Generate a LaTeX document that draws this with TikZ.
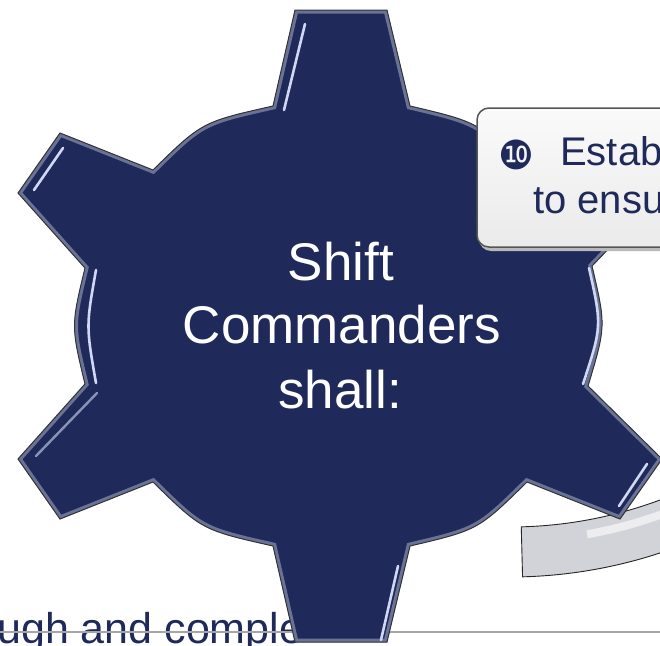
\documentclass[tikz,border=0pt]{standalone}
\usepackage{fontspec}
\setmainfont{Liberation Sans}
\newfontfamily\dejavufont{DejaVu Sans}
\definecolor{navy}{HTML}{1F2A5B}
\definecolor{bevel}{HTML}{6A7396}
\definecolor{hilite}{HTML}{D0D8F4}
\definecolor{bandgray}{HTML}{D2D3D8}
\definecolor{boxedge}{HTML}{555555}
\begin{document}
\begin{tikzpicture}[x=1pt,y=-1pt,
  gearoutline/.style={insert path={(273,106) -- (295,10) -- (387,10) -- (410,106)
     .. controls (478,122) .. (527,170) -- (620,133) -- (662,193) -- (592,266)
     .. controls (606,326) .. (588,386) -- (662,459) -- (620,519) -- (527,482)
     .. controls (478,530) .. (410,546) -- (387,642) -- (295,642) -- (273,546)
     .. controls (202,530) .. (153,482) -- (60,519) -- (18,459) -- (85,384)
     .. controls (71,326) .. (85,268) -- (18,193) -- (60,133) -- (153,170)
     .. controls (202,122) .. (273,106) -- cycle}},
  geartext/.style={text=white, anchor=base, inner sep=0, font=\fontsize{53}{64}\selectfont},
  boxtext/.style={text=navy, anchor=base west, inner sep=0, font=\fontsize{40}{48}\selectfont},
  hl/.style={hilite, line width=2.6, line cap=round},
  hlsoft/.style={hilite!60!navy, line width=2.4, line cap=round}]
\useasboundingbox (0,0) rectangle (660,645);
\clip (0,0) rectangle (660,645);
\fill[white] (0,0) rectangle (660,645);

% bottom text and rule
\node[text=navy, anchor=base west, inner sep=0, font=\fontsize{43}{50}\selectfont] (bottomtext) at (-3,643) {ugh and comple};
\coordinate (ruleL) at (0,632);
\coordinate (ruleR) at (660,632);
\draw[gray!70, line width=2.5] (ruleL) -- (ruleR);

% gray ring band
\begin{scope}[shift={(510,97)}]
  \fill[bandgray, draw=black!85, line width=0.9]
    (88.5:430) arc[start angle=88.5, end angle=30, radius=430]
    -- (30:480) arc[start angle=30, end angle=88.5, radius=480] -- cycle;
  \draw[white, opacity=0.6, line width=8] (80:444) arc[start angle=80, end angle=35, radius=444];
\end{scope}

% gear
\fill[navy, gearoutline];
\begin{scope}
  \clip[gearoutline];
  \draw[bevel, line width=7, gearoutline];
\end{scope}
\draw[black!80, line width=1, gearoutline];

% highlights
\draw[hl] (305,24) -- (284,110);
\draw[hl] (63,148) -- (34,190);
\draw[hl] (96,270) .. controls (86,326) .. (96,383);
\draw[hlsoft] (97,393) -- (36,456);
\draw[hl] (589,268) .. controls (602,326) .. (583,384);
\draw[hl] (647,464) -- (619,506);
\draw[hl] (398,566) -- (381,640);

% gear text
\node[geartext] (t1) at (341,280) {Shift};
\node[geartext] (t2) at (342,343) {Commanders};
\node[geartext] (t3) at (340,408) {shall:};

% callout
\fill[gray!55, rounded corners=12] (479,111) rectangle (720,251);
\shade[top color=white!96!gray, bottom color=gray!16, rounded corners=12, draw=boxedge, line width=1.5] (477,108) rectangle (720,247);
\node[text=navy, inner sep=0, font=\dejavufont\fontsize{40}{40}\selectfont] (num) at (516,155) {❿};
\node[boxtext] (l1) at (560,165) {Estab};
\node[boxtext] (l2) at (533,213) {to ensu};
\end{tikzpicture}
\end{document}
